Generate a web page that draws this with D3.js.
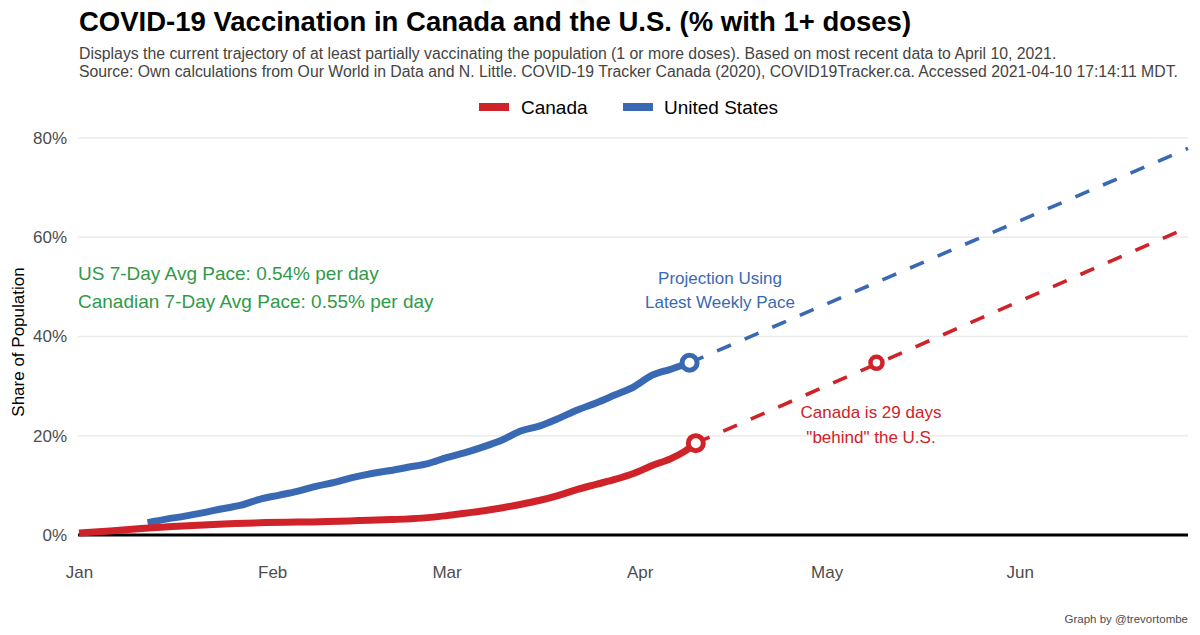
<!DOCTYPE html>
<html>
<head>
<meta charset="utf-8">
<script src="https://cdn.jsdelivr.net/npm/d3@7"></script>
<style>
  html, body { margin: 0; padding: 0; background: #fff; }
  svg { display: block; font-family: "Liberation Sans", Arial, sans-serif; }
</style>
</head>
<body>
<svg id="chart" width="1200" height="635"></svg>
<script>
// ---------------- DATA ----------------
const title = "COVID-19 Vaccination in Canada and the U.S. (% with 1+ doses)";
const subtitleLines = [
  "Displays the current trajectory of at least partially vaccinating the population (1 or more doses). Based on most recent data to April 10, 2021.",
  "Source: Own calculations from Our World in Data and N. Little. COVID-19 Tracker Canada (2020), COVID19Tracker.ca. Accessed 2021-04-10 17:14:11 MDT."
];
const caption = "Graph by @trevortombe";
const yAxisTitle = "Share of Population";
const seriesNames = ["Canada", "United States"];

const monthTicks = ["2021-01-01","2021-02-01","2021-03-01","2021-04-01","2021-05-01","2021-06-01"];
const monthLabels = ["Jan","Feb","Mar","Apr","May","Jun"];
const yTicks = [0, 20, 40, 60, 80];
const yTickLabels = ["0%","20%","40%","60%","80%"];

// Canada, % with 1+ doses
const canadaDates = ["2021-01-01","2021-01-06","2021-01-11","2021-01-16","2021-01-21","2021-01-26","2021-01-31",
  "2021-02-05","2021-02-10","2021-02-15","2021-02-20","2021-02-25","2021-03-01","2021-03-04","2021-03-07",
  "2021-03-10","2021-03-13","2021-03-16","2021-03-19","2021-03-22","2021-03-25","2021-03-28","2021-03-31",
  "2021-04-03","2021-04-06","2021-04-08","2021-04-10"];
const canadaValues = [0.4,0.8,1.3,1.7,2.0,2.3,2.5,
  2.6,2.7,2.9,3.1,3.4,3.9,4.4,4.9,
  5.5,6.2,7.0,8.0,9.2,10.2,11.2,12.4,
  14.0,15.4,16.7,18.5];

// United States, % with 1+ doses
const usDates = ["2021-01-12","2021-01-15","2021-01-18","2021-01-21","2021-01-24","2021-01-27","2021-01-30",
  "2021-02-02","2021-02-05","2021-02-08","2021-02-11","2021-02-14","2021-02-17","2021-02-20","2021-02-23",
  "2021-02-26","2021-03-01","2021-03-04","2021-03-07","2021-03-10","2021-03-13","2021-03-16","2021-03-19",
  "2021-03-22","2021-03-25","2021-03-28","2021-03-31","2021-04-03","2021-04-06","2021-04-09"];
const usValues = [2.5,3.2,3.8,4.5,5.3,6.0,7.2,
  8.0,8.8,9.8,10.6,11.6,12.4,13.0,13.7,
  14.4,15.6,16.6,17.8,19.2,21.0,22.0,23.5,
  25.2,26.6,28.2,29.8,32.2,33.4,34.7];

// Projections (latest weekly pace)
const canadaProjDates = ["2021-04-10","2021-06-28"];
const canadaProjValues = [18.5, 62.0];
const usProjDates = ["2021-04-09","2021-06-28"];
const usProjValues = [34.7, 77.9];

// Canada reaching current U.S. level
const catchUpDate = "2021-05-09";
const catchUpValue = 34.7;

const paceLines = ["US 7-Day Avg Pace: 0.54% per day", "Canadian 7-Day Avg Pace: 0.55% per day"];
const projectionLabel = ["Projection Using", "Latest Weekly Pace"];
const behindLabel = ["Canada is 29 days", "\"behind\" the U.S."];

// ---------------- STYLE ----------------
const RED = "#cf2229", BLUE = "#3a69b3", GREEN = "#2f9a48";
const parse = d3.utcParse("%Y-%m-%d");

const svg = d3.select("#chart");
const x = d3.scaleUtc().domain([parse("2021-01-01"), parse("2021-06-28")]).range([79, 1188]);
const y = d3.scaleLinear().domain([0, 80]).range([535, 138]);

// gridlines
svg.append("g").selectAll("line").data(yTicks.filter(d => d > 0)).join("line")
  .attr("x1", 78).attr("x2", 1188)
  .attr("y1", d => y(d)).attr("y2", d => y(d))
  .attr("stroke", "#ebebeb").attr("stroke-width", 1.6);

// zero line
svg.append("line").attr("x1", 78).attr("x2", 1188).attr("y1", y(0)).attr("y2", y(0))
  .attr("stroke", "#000").attr("stroke-width", 3);

// y axis labels
const yAxis = d3.axisLeft(y).tickValues(yTicks).tickFormat((d, i) => yTickLabels[i]).tickSize(0).tickPadding(0);
const gy = svg.append("g").attr("transform", "translate(67,0)").call(yAxis);
gy.select(".domain").remove();
gy.selectAll("text").attr("font-size", 17).attr("fill", "#4d4d4d")
  .attr("font-family", "'Liberation Sans', Arial, sans-serif");

// x axis labels
const xAxis = d3.axisBottom(x).tickValues(monthTicks.map(parse)).tickFormat((d, i) => monthLabels[i]).tickSize(0).tickPadding(0);
const gx = svg.append("g").attr("transform", "translate(0,566)").call(xAxis);
gx.select(".domain").remove();
gx.selectAll("text").attr("font-size", 17).attr("fill", "#4d4d4d")
  .attr("font-family", "'Liberation Sans', Arial, sans-serif");

// y axis title
svg.append("text").attr("transform", "translate(24,342) rotate(-90)")
  .attr("text-anchor", "middle").attr("font-size", 17).attr("fill", "#000").text(yAxisTitle);

// projections (dashed)
const line = d3.line().x(d => x(d[0])).y(d => y(d[1]));
const smooth = d3.line().x(d => x(d[0])).y(d => y(d[1])).curve(d3.curveMonotoneX);
const zip = (ds, vs) => ds.map((d, i) => [parse(d), vs[i]]);

svg.append("path").attr("d", line(zip(usProjDates, usProjValues)))
  .attr("fill", "none").attr("stroke", BLUE).attr("stroke-width", 3.6).attr("stroke-dasharray", "15,15");
svg.append("path").attr("d", line(zip(canadaProjDates, canadaProjValues)))
  .attr("fill", "none").attr("stroke", RED).attr("stroke-width", 3.6).attr("stroke-dasharray", "15,15");

// actual lines
svg.append("path").attr("d", smooth(zip(usDates, usValues)))
  .attr("fill", "none").attr("stroke", BLUE).attr("stroke-width", 7).attr("stroke-linejoin", "round");
svg.append("path").attr("d", smooth(zip(canadaDates, canadaValues)))
  .attr("fill", "none").attr("stroke", RED).attr("stroke-width", 7).attr("stroke-linejoin", "round");

// end points
svg.append("circle").attr("cx", x(parse(usDates[usDates.length-1]))).attr("cy", y(usValues[usValues.length-1]))
  .attr("r", 7.5).attr("fill", "#fff").attr("stroke", BLUE).attr("stroke-width", 5);
svg.append("circle").attr("cx", x(parse(canadaDates[canadaDates.length-1]))).attr("cy", y(canadaValues[canadaValues.length-1]))
  .attr("r", 7.5).attr("fill", "#fff").attr("stroke", RED).attr("stroke-width", 5);
svg.append("circle").attr("cx", x(parse(catchUpDate))).attr("cy", y(catchUpValue))
  .attr("r", 6).attr("fill", "#fff").attr("stroke", RED).attr("stroke-width", 4.5);

// annotations
svg.append("g").selectAll("text").data(paceLines).join("text")
  .attr("x", 78).attr("y", (d, i) => 280 + i * 28)
  .attr("font-size", 19).attr("fill", GREEN).text(d => d);
svg.append("g").selectAll("text").data(projectionLabel).join("text")
  .attr("x", 720).attr("y", (d, i) => 284 + i * 24).attr("text-anchor", "middle")
  .attr("font-size", 17).attr("fill", BLUE).text(d => d);
svg.append("g").selectAll("text").data(behindLabel).join("text")
  .attr("x", 871).attr("y", (d, i) => 418 + i * 25).attr("text-anchor", "middle")
  .attr("font-size", 17).attr("fill", RED).text(d => d);

// title and subtitle
svg.append("text").attr("x", 79).attr("y", 31).attr("font-size", 27.5).attr("font-weight", "bold")
  .attr("fill", "#000").text(title);
svg.append("g").selectAll("text").data(subtitleLines).join("text")
  .attr("x", 79).attr("y", (d, i) => 59 + i * 18).attr("font-size", 15.8).attr("fill", "#444").text(d => d);

// legend
const legendX = [479, 623], legendTextX = [521, 664], legendColors = [RED, BLUE];
seriesNames.forEach((name, i) => {
  svg.append("rect").attr("x", legendX[i]).attr("y", 103).attr("width", 30).attr("height", 8).attr("fill", legendColors[i]);
  svg.append("text").attr("x", legendTextX[i]).attr("y", 114).attr("font-size", 19).attr("fill", "#000").text(name);
});

// caption
svg.append("text").attr("x", 1188).attr("y", 623).attr("text-anchor", "end")
  .attr("font-size", 11.5).attr("fill", "#4d4d4d").text(caption);
</script>
</body>
</html>
